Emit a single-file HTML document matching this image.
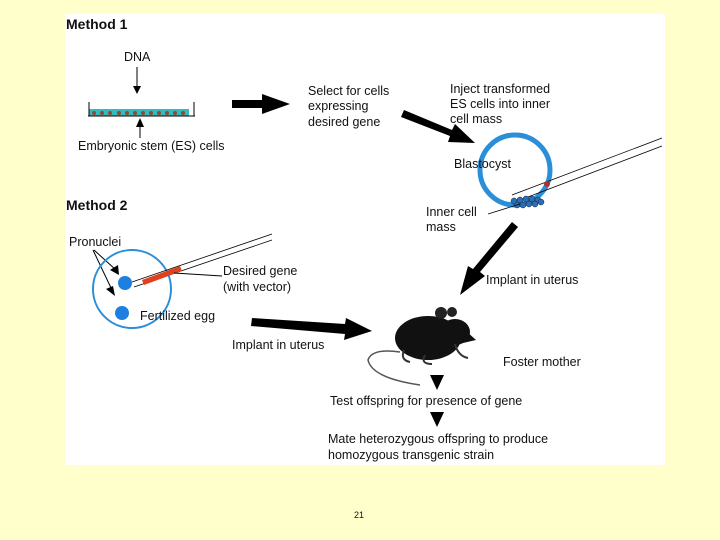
<!DOCTYPE html>
<html><head><meta charset="utf-8"><style>
html,body{margin:0;padding:0;width:720px;height:540px;background:#FFFFCC;overflow:hidden}
svg{display:block}
text{font-family:"Liberation Sans",sans-serif;font-size:12.5px;fill:#111}
.b{font-weight:bold;font-size:14px}
</style></head><body>
<svg width="720" height="540" viewBox="0 0 720 540">
<rect x="65" y="14" width="600" height="451" fill="#fff"/>
<text x="66" y="29" class="b">Method 1</text>
<text x="124" y="61">DNA</text>
<line x1="137" y1="67" x2="137" y2="87" stroke="#000"/>
<polygon points="133,86 141,86 137,94" fill="#000"/>
<rect x="89" y="109" width="100" height="7" fill="#33BBBB"/>
<line x1="89" y1="102" x2="89" y2="116" stroke="#000"/>
<line x1="194" y1="102" x2="194" y2="116" stroke="#000"/>
<line x1="88" y1="116" x2="195" y2="116" stroke="#000"/>
<g fill="#8B4A3A">
<circle cx="94" cy="113" r="2"/><circle cx="102" cy="113" r="2"/><circle cx="110" cy="113" r="2"/><circle cx="119" cy="113" r="2"/><circle cx="127" cy="113" r="2"/><circle cx="135" cy="113" r="2"/><circle cx="143" cy="113" r="2"/><circle cx="151" cy="113" r="2"/><circle cx="159" cy="113" r="2"/><circle cx="167" cy="113" r="2"/><circle cx="175" cy="113" r="2"/><circle cx="183" cy="113" r="2"/></g>
<line x1="140" y1="126" x2="140" y2="138" stroke="#000"/>
<polygon points="136,127 144,127 140,118" fill="#000"/>
<text x="78" y="150">Embryonic stem (ES) cells</text>
<polygon points="232,100 262,100 262,94 290,104 262,114 262,108 232,108" fill="#000"/>
<text x="308" y="95">Select for cells</text>
<text x="308" y="110">expressing</text>
<text x="308" y="126">desired gene</text>
<text x="450" y="93">Inject transformed</text>
<text x="450" y="108">ES cells into inner</text>
<text x="450" y="123">cell mass</text>
<polygon points="404,110 452,130 455,124 475,143 448,142 450,136 401,117" fill="#000"/>
<circle cx="515" cy="170" r="35" fill="none" stroke="#2A8FD8" stroke-width="5"/>
<text x="454" y="168">Blastocyst</text>
<line x1="512" y1="195" x2="662" y2="138" stroke="#000" stroke-width="0.8"/>
<line x1="520" y1="200" x2="662" y2="146" stroke="#000" stroke-width="0.8"/>
<circle cx="547" cy="184" r="3" fill="#B03030"/>
<g fill="#2A6FB8" stroke="#123" stroke-width="0.5">
<circle cx="514" cy="201" r="3"/><circle cx="520" cy="200" r="3"/><circle cx="526" cy="199" r="3"/><circle cx="532" cy="199" r="3"/><circle cx="538" cy="200" r="3"/><circle cx="517" cy="205" r="3"/><circle cx="523" cy="205" r="3"/><circle cx="529" cy="204" r="3"/><circle cx="535" cy="204" r="3"/><circle cx="541" cy="202" r="3"/></g>
<line x1="488" y1="214" x2="520" y2="204" stroke="#000" stroke-width="0.8"/>
<text x="426" y="216">Inner cell</text>
<text x="426" y="231">mass</text>
<polygon points="512,222 518,227 480,272 485,276 460,295 468,266 473,269" fill="#000"/>
<text x="486" y="284">Implant in uterus</text>
<text x="66" y="210" class="b">Method 2</text>
<text x="69" y="246">Pronuclei</text>
<line x1="94" y1="250" x2="116" y2="270" stroke="#000"/>
<polygon points="110,270 118,265 119,275" fill="#000"/>
<line x1="93" y1="250" x2="112" y2="290" stroke="#000"/>
<polygon points="106,289 113,286 115,296" fill="#000"/>
<circle cx="132" cy="289" r="39" fill="none" stroke="#2A8FD8" stroke-width="2"/>
<circle cx="125" cy="283" r="7" fill="#1F7FE0"/>
<circle cx="122" cy="313" r="7" fill="#1F7FE0"/>
<line x1="132" y1="282" x2="272" y2="234" stroke="#000" stroke-width="0.8"/>
<line x1="134" y1="287" x2="272" y2="240" stroke="#000" stroke-width="0.8"/>
<polygon points="142,280 180,266 182,271 144,285" fill="#E0401C"/>
<line x1="174" y1="273" x2="222" y2="276" stroke="#000"/>
<text x="223" y="275">Desired gene</text>
<text x="223" y="291">(with vector)</text>
<text x="140" y="320">Fertilized egg</text>
<polygon points="252,318 345,324 346,318 372,331 344,340 345,334 251,326" fill="#000"/>
<text x="232" y="349">Implant in uterus</text>
<ellipse cx="428" cy="338" rx="33" ry="22" fill="#111"/>
<ellipse cx="455" cy="332" rx="15" ry="13" fill="#111"/>
<circle cx="441" cy="313" r="6" fill="#222"/>
<circle cx="452" cy="312" r="5" fill="#222"/>
<polygon points="465,330 476,340 463,343" fill="#111"/>
<path d="M404,350 Q400,360 410,362 M425,355 Q420,364 432,364 M455,344 Q458,356 468,358" fill="none" stroke="#333" stroke-width="2"/>
<path d="M400,352 Q372,348 368,360 Q372,378 420,385" fill="none" stroke="#555" stroke-width="1.5"/>
<text x="503" y="366">Foster mother</text>
<polygon points="430,375 444,375 437,390" fill="#000"/>
<text x="330" y="405">Test offspring for presence of gene</text>
<polygon points="430,412 444,412 437,427" fill="#000"/>
<text x="328" y="443">Mate heterozygous offspring to produce</text>
<text x="328" y="459">homozygous transgenic strain</text>
<text x="354" y="518" style="font-size:9px">21</text>
</svg>
</body></html>
